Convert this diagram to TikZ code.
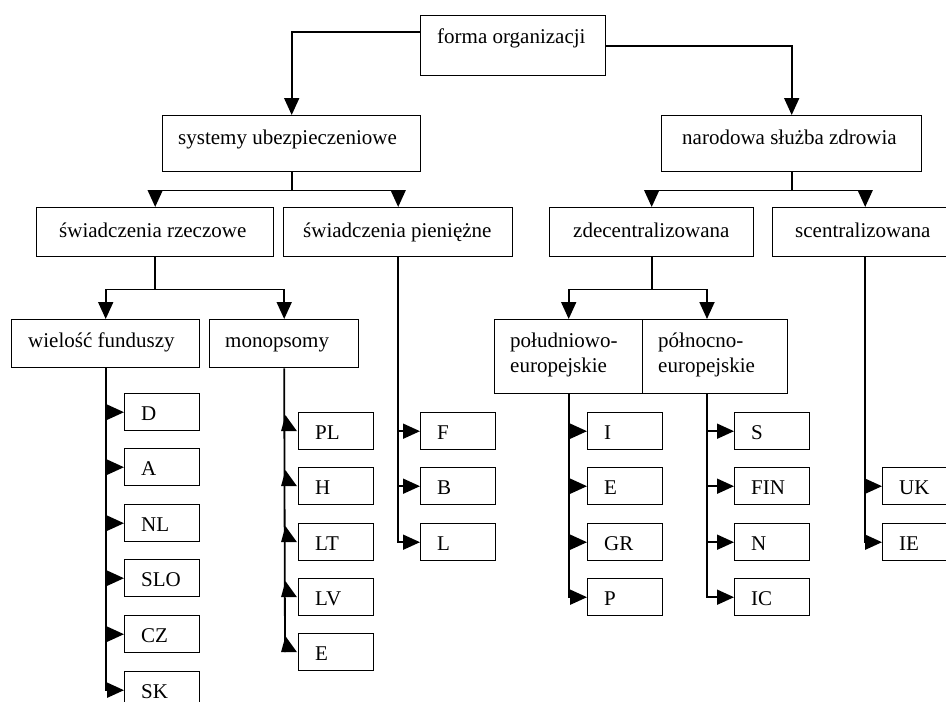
\documentclass[tikz,border=0pt]{standalone}
\usepackage{fontspec}
\setmainfont{Liberation Serif}
\usetikzlibrary{arrows.meta,calc}
\tikzset{
  box/.style={draw, line width=1.4pt, inner sep=0pt, rectangle},
  txt/.style={anchor=base west, inner sep=0pt},
  conn/.style={line width=1.8pt},
  arr/.style={conn, -{Triangle[length=17pt,width=15pt]}},
  uptri/.style={fill=black},
}
\newcommand\mybox[5]{\node[box,anchor=north west,minimum width={#4-#2},minimum height={#5-#3}] (#1) at (#2,#3) {};}
\newcommand\mytext[4]{\node[txt] (#1) at (#2,#3) {#4};}
\newcommand\cbox[4]{\node[box,anchor=north west,minimum width=75,minimum height=37] (#1) at (#2,#3) {};
  \node[txt] (#1t) at ({#2+17},{#3+27.5}) {#4};}
\newcommand\uptriangle[1]{\fill[uptri] ($(#1.west)+(-17,0)$) -- ($(#1.west)+(-1,0)$) -- ($(#1.west)+(-12.5,-16)$) -- cycle;}
\begin{document}
\begin{tikzpicture}[x=1pt,y=-1pt,font=\fontsize{21}{25}\selectfont]
\path[use as bounding box] (0,0) rectangle (946,702);
\clip (0,0) rectangle (946,702);
% main boxes
\mybox{forma}{420}{15}{605}{75}
\mytext{format}{437}{43.5}{forma organizacji}
\mybox{sys}{162}{115}{420}{171}
\mytext{syst}{178}{144}{systemy ubezpieczeniowe}
\mybox{nar}{661}{115}{921}{171}
\mytext{nart}{682}{144}{narodowa służba zdrowia}
\mybox{rz}{36}{207}{273}{256}
\mytext{rzt}{59}{237}{świadczenia rzeczowe}
\mybox{pn}{283}{207}{512}{256}
\mytext{pnt}{303}{237}{świadczenia pieniężne}
\mybox{zd}{549}{207}{753}{256}
\mytext{zdt}{573}{237}{zdecentralizowana}
\mybox{sc}{772}{207}{957}{256}
\mytext{sct}{795}{237}{scentralizowana}
\mybox{wf}{11}{319}{199}{367}
\mytext{wft}{28}{347}{wielość funduszy}
\mybox{mono}{209}{319}{358}{367}
\mytext{monot}{225}{347}{monopsomy}
\mybox{pol}{494}{319}{642}{393}
\mytext{polta}{510}{347}{południowo-}
\mytext{poltb}{510}{372}{europejskie}
\mybox{poln}{642}{319}{787}{393}
\mytext{polnta}{658}{347}{północno-}
\mytext{polntb}{658}{372}{europejskie}
% small boxes
\cbox{D}{124}{393}{D}
\cbox{A}{124}{448}{A}
\cbox{NL}{124}{504}{NL}
\cbox{SLO}{124}{559}{SLO}
\cbox{CZ}{124}{615}{CZ}
\cbox{SK}{124}{671}{SK}
\cbox{PL}{298}{412}{PL}
\cbox{H}{298}{467}{H}
\cbox{LT}{298}{523}{LT}
\cbox{LV}{298}{578}{LV}
\cbox{Em}{298}{633}{E}
\cbox{F}{420}{412}{F}
\cbox{B}{420}{467}{B}
\cbox{L}{420}{523}{L}
\cbox{I}{587}{412}{I}
\cbox{Es}{587}{467}{E}
\cbox{GR}{587}{523}{GR}
\cbox{P}{587}{578}{P}
\cbox{S}{734}{412}{S}
\cbox{FIN}{734}{467}{FIN}
\cbox{N}{734}{523}{N}
\cbox{IC}{734}{578}{IC}
\cbox{UK}{882}{467}{UK}
\cbox{IE}{882}{523}{IE}
% coordinates
\coordinate (polnin) at (707,319);
\coordinate (polnout) at (707,393);
% connectors
\draw[arr] ($(forma.north west)+(0,17)$) -| (sys.north);
\draw[arr] (forma.east) -| (nar.north);
\draw[arr] (sys.south) -- ++(0,18) -| (rz.north);
\draw[arr] (sys.south) -- ++(0,18) -| (pn.north);
\draw[arr] (nar.south) -- ++(0,18) -| (zd.north);
\draw[arr] (nar.south) -- ++(0,18) -| (sc.north);
\draw[arr] (rz.south) -- ++(0,32) -| (wf.north);
\draw[arr] (rz.south) -- ++(0,32) -| (mono.north);
\draw[arr] (zd.south) -- ++(0,32) -| (pol.north);
\draw[arr] (zd.south) -- ++(0,32) -| (polnin);
\foreach \b in {D,A,NL,SLO,CZ,SK} {\draw[arr] (wf.south) |- (\b.west);}
\foreach \b in {F,B,L} {\draw[arr] (pn.south) |- (\b.west);}
\foreach \b in {I,Es,GR,P} {\draw[arr] (pol.south) |- (\b.west);}
\foreach \b in {S,FIN,N,IC} {\draw[arr] (polnout) |- (\b.west);}
\foreach \b in {UK,IE} {\draw[arr] (sc.south) |- (\b.west);}
\draw[conn] (mono.south) -- ($(Em.west)+(-13,0)$);
\foreach \b in {PL,H,LT,LV,Em} {\uptriangle{\b}}
\end{tikzpicture}
\end{document}
